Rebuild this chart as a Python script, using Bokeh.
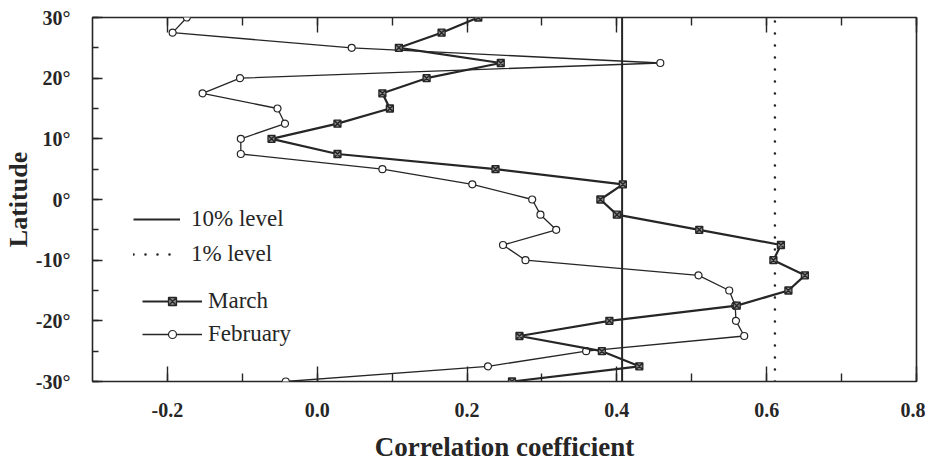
from bokeh.plotting import figure
from bokeh.models import (Range1d, LinearAxis, SingleIntervalTicker, PrintfTickFormatter,
                          CustomJSTickFormatter, Legend, LegendItem)
from bokeh.embed import file_html
from bokeh.resources import INLINE

# ---- data ----
latitude = [30, 27.5, 25, 22.5, 20, 17.5, 15, 12.5, 10, 7.5, 5, 2.5, 0,
            -2.5, -5, -7.5, -10, -12.5, -15, -17.5, -20, -22.5, -25, -27.5, -30]
march = [0.215, 0.166, 0.109, 0.245, 0.146, 0.087, 0.097, 0.027, -0.061, 0.027,
         0.238, 0.408, 0.378, 0.400, 0.510, 0.619, 0.609, 0.651, 0.629, 0.560,
         0.390, 0.270, 0.380, 0.430, 0.260]
february = [-0.174, -0.193, 0.046, 0.458, -0.103, -0.153, -0.053, -0.043, -0.102, -0.102,
            0.087, 0.207, 0.287, 0.298, 0.319, 0.248, 0.278, 0.509, 0.550, 0.558,
            0.559, 0.570, 0.359, 0.228, -0.042]
level_10 = 0.407
level_1 = 0.611
x_ticks_interval = 0.2
y_ticks_interval = 10

INK = "#262626"
FONT = "Liberation Serif"

p = figure(width=925, height=464, output_backend="svg", toolbar_location=None,
           x_range=Range1d(-0.3, 0.8), y_range=Range1d(-30, 30),
           x_axis_location=None, y_axis_location=None,
           min_border_left=92, min_border_right=9, min_border_top=17, min_border_bottom=83,
           background_fill_color="white", border_fill_color="white")
p.xgrid.visible = False
p.ygrid.visible = False
p.outline_line_color = INK
p.outline_line_width = 1.6

xt = SingleIntervalTicker(interval=x_ticks_interval, num_minor_ticks=2)
yt = SingleIntervalTicker(interval=y_ticks_interval, num_minor_ticks=2)

bottom = LinearAxis(ticker=xt, formatter=PrintfTickFormatter(format="%.1f"),
                    axis_label="Correlation coefficient")
top = LinearAxis(ticker=xt, formatter=CustomJSTickFormatter(code="return ''"))
left = LinearAxis(ticker=yt, formatter=PrintfTickFormatter(format="%d°"),
                  axis_label="Latitude")

for ax, tin, mtin in ((bottom, 15, 8), (top, 15, 8), (left, 10, 6)):
    ax.axis_line_color = None
    ax.major_tick_in = tin
    ax.major_tick_out = 0
    ax.minor_tick_in = mtin
    ax.minor_tick_out = 0
    ax.major_tick_line_color = INK
    ax.minor_tick_line_color = INK
    ax.major_tick_line_width = 1.4
    ax.minor_tick_line_width = 1.4
    ax.major_label_text_font = FONT
    ax.major_label_text_font_style = "bold"
    ax.major_label_text_font_size = "20px"
    ax.major_label_text_color = INK

for ax in (bottom, left):
    ax.axis_label_text_font = FONT
    ax.axis_label_text_font_style = "bold"
    ax.axis_label_text_font_size = "27px"
    ax.axis_label_text_color = INK
left.axis_label_text_font_size = "26px"

bottom.major_label_standoff = 21
bottom.axis_label_standoff = 12
top.major_label_standoff = 0
top.major_label_text_font_size = "1px"
left.major_label_standoff = 22
left.axis_label_standoff = 0

p.add_layout(bottom, "below")
p.add_layout(top, "above")
p.add_layout(left, "left")

# significance levels
lat_span = [min(latitude), max(latitude)]
r10 = p.line(x=[level_10, level_10], y=lat_span, line_color=INK, line_width=2)
r1 = p.line(x=[level_1, level_1], y=lat_span, line_color=INK, line_width=2.6,
            line_dash="0 12", line_cap="round")

# series
feb_line = p.line(february, latitude, line_color=INK, line_width=1.3)
feb_pts = p.scatter(february, latitude, marker="circle", size=7, fill_color="white",
                    line_color=INK, line_width=1.2)
mar_line = p.line(march, latitude, line_color=INK, line_width=2.2)
mar_pts = p.scatter(march, latitude, marker="square_x", size=7, fill_color="#8a8a8a",
                    line_color=INK, line_width=1.3)

leg1 = Legend(items=[LegendItem(label="10% level", renderers=[r10]),
                     LegendItem(label="1% level", renderers=[r1])],
              location=(41, 114), orientation="vertical",
              glyph_width=47, glyph_height=20, label_standoff=11, spacing=9,
              padding=0, margin=0, border_line_color=None, background_fill_alpha=0,
              label_text_font=FONT, label_text_font_size="23px", label_text_color=INK)
leg2 = Legend(items=[LegendItem(label="March", renderers=[mar_line, mar_pts]),
                     LegendItem(label="February", renderers=[feb_line, feb_pts])],
              location=(50, 34), orientation="vertical",
              glyph_width=60, glyph_height=20, label_standoff=6, spacing=7,
              padding=0, margin=0, border_line_color=None, background_fill_alpha=0,
              label_text_font=FONT, label_text_font_size="23px", label_text_color=INK)
p.add_layout(leg1, "center")
p.add_layout(leg2, "center")

open("out.html", "w").write(file_html(p, INLINE))
